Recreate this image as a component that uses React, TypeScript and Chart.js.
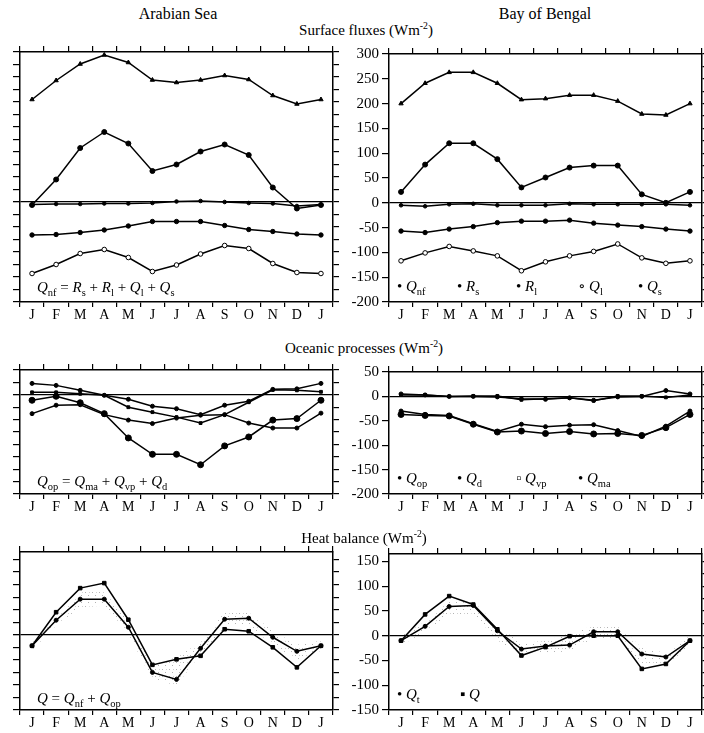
import React, { useEffect, useRef } from 'react';
import { Chart, registerables } from 'chart.js';

Chart.register(...registerables);

const months = ['J', 'F', 'M', 'A', 'M', 'J', 'J', 'A', 'S', 'O', 'N', 'D', 'J'];

// ---- Surface fluxes, Arabian Sea
const asRs = [205, 243, 276, 294, 279, 244, 239, 244, 253, 245, 213, 196, 205];
const asQnf = [-6, 45, 108, 140, 117, 62, 75, 101, 115, 94, 29, -13, -6];
const asQs = [-5, -4, -4, -3, -3, -2, 1, 2, 0, -2, -3, -8, -5];
const asRl = [-66, -65, -61, -56, -48, -39, -39, -39, -47, -55, -59, -64, -66];
const asQl = [-143, -125, -103, -95, -111, -139, -126, -104, -87, -93, -123, -141, -143];

// ---- Surface fluxes, Bay of Bengal
const bbRs = [200, 241, 263, 263, 241, 208, 210, 217, 217, 205, 179, 177, 200];
const bbQnf = [22, 77, 120, 120, 88, 31, 51, 71, 75, 75, 17, 0, 22];
const bbQs = [-5, -7, -3, -2, -5, -5, -5, -2, -3, -3, -3, -3, -5];
const bbRl = [-57, -60, -53, -48, -40, -37, -37, -35, -41, -45, -48, -53, -57];
const bbQl = [-117, -101, -88, -97, -107, -137, -119, -107, -98, -83, -111, -122, -117];

// ---- Oceanic processes, Arabian Sea
const asQop = [-11, -3, -16, -38, -87, -120, -120, -141, -103, -85, -51, -48, -11];
const asQma = [23, 19, 9, -1, -9, -23, -28, -40, -21, -13, 11, 12, 23];
const asQvp = [5, 5, 2, -1, -25, -35, -45, -57, -40, -15, 10, 9, 6];
const asQd = [-38, -21, -20, -40, -51, -58, -47, -41, -40, -57, -67, -67, -37];

// ---- Oceanic processes, Bay of Bengal
const bbQop = [-37, -39, -40, -57, -73, -71, -76, -72, -77, -76, -80, -64, -37];
const bbQma = [-30, -37, -39, -56, -72, -57, -62, -59, -58, -70, -82, -61, -30];
const bbQd = [5, 3, 0, 0, -1, -5, -6, -3, -8, -1, 0, 12, 5];
const bbQvp = [3, 3, 0, 1, 1, -7, -5, -3, -9, 1, 1, -2, 3];

// ---- Heat balance, Arabian Sea
const asQ = [-22, 45, 93, 103, 30, -60, -49, -42, 11, 7, -25, -65, -22];
const asQt = [-22, 29, 71, 71, 15, -75, -89, -27, 31, 33, -5, -33, -22];
const asBandHi = [-12, 40, 85, 88, 28, -60, -45, -15, 45, 45, 8, -20, -12];
const asBandLo = [-32, 18, 55, 58, 2, -90, -100, -40, 15, 18, -20, -50, -32];

// ---- Heat balance, Bay of Bengal
const bbQ = [-10, 43, 80, 63, 13, -40, -23, -1, 0, 0, -67, -57, -10];
const bbQt = [-10, 19, 59, 61, 10, -27, -21, -19, 8, 8, -37, -43, -10];
const bbBandHi = [0, 28, 70, 70, 20, -15, -10, 5, 20, 22, -25, -35, 0];
const bbBandLo = [-20, 8, 42, 45, -10, -38, -38, -30, -5, -5, -55, -60, -20];

const SERIF = '"Liberation Serif", "DejaVu Serif", serif';

type Line = { data: number[]; style?: string; radius?: number; open?: boolean };

type PanelProps = {
  left: number;
  top: number;
  padL: number;
  padR: number;
  plotW: number;
  plotH: number;
  yMin: number;
  yMax: number;
  yLabels: boolean;
  lines: Line[];
  band?: [number[], number[]];
};

function makeStipple(): CanvasPattern | string {
  const c = document.createElement('canvas');
  c.width = 7;
  c.height = 7;
  const g = c.getContext('2d');
  if (!g) return 'rgba(0,0,0,0.1)';
  g.fillStyle = 'rgba(0,0,0,0.3)';
  g.fillRect(1, 1, 1, 1);
  g.fillRect(4, 4, 1, 1);
  g.fillStyle = 'rgba(0,0,0,0.18)';
  g.fillRect(5, 1, 1, 1);
  const p = g.createPattern(c, 'repeat');
  return p || 'rgba(0,0,0,0.1)';
}

function Panel(props: PanelProps) {
  const ref = useRef<HTMLCanvasElement>(null);
  const padT = 10;
  const padB = 22;
  const w = props.padL + props.plotW + props.padR;
  const h = padT + props.plotH + padB;

  useEffect(() => {
    if (!ref.current) return;
    const datasets: any[] = [];
    if (props.band) {
      const pat = makeStipple();
      datasets.push({
        data: props.band[0],
        borderWidth: 0,
        pointRadius: 0,
        fill: '+1',
        backgroundColor: pat,
        borderColor: 'rgba(0,0,0,0)',
        order: 10,
      });
      datasets.push({
        data: props.band[1],
        borderWidth: 0,
        pointRadius: 0,
        fill: false,
        borderColor: 'rgba(0,0,0,0)',
        order: 10,
      });
    }
    props.lines.forEach((l) => {
      datasets.push({
        data: l.data,
        borderColor: '#000',
        borderWidth: 1.5,
        tension: 0,
        fill: false,
        pointStyle: l.style || 'circle',
        pointRadius: l.radius ?? 2,
        pointBackgroundColor: l.open ? '#fff' : '#000',
        pointBorderColor: '#000',
        pointBorderWidth: 1,
        order: 0,
      });
    });

    const tickFont = { family: SERIF, size: 15 };
    const monthFont = { family: SERIF, size: 14 };
    const chart = new Chart(ref.current, {
      type: 'line',
      data: { labels: months, datasets },
      options: {
        responsive: false,
        animation: false,
        events: [],
        layout: { padding: 0, autoPadding: false },
        plugins: { legend: { display: false }, tooltip: { enabled: false } },
        scales: {
          x: {
            type: 'category',
            position: 'bottom',
            offset: true,
            grid: {
              offset: true,
              drawOnChartArea: false,
              drawTicks: true,
              tickLength: 5,
              color: '#000',
              lineWidth: 1.2,
            },
            border: { display: true, color: '#000', width: 1.5 },
            ticks: {
              color: '#000',
              font: monthFont,
              padding: 0,
              maxRotation: 0,
              autoSkip: false,
            },
            afterFit: (s: any) => {
              s.height = padB;
            },
          },
          x2: {
            type: 'category',
            position: 'top',
            offset: true,
            grid: {
              offset: true,
              drawOnChartArea: false,
              drawTicks: true,
              tickLength: 6,
              color: '#000',
              lineWidth: 1.2,
            },
            border: { display: true, color: '#000', width: 1.5 },
            ticks: { display: false },
            afterFit: (s: any) => {
              s.height = padT;
            },
          },
          y: {
            type: 'linear',
            position: 'left',
            min: props.yMin,
            max: props.yMax,
            grid: {
              drawOnChartArea: true,
              drawTicks: true,
              tickLength: 7,
              color: (ctx: any) => (ctx.tick && ctx.tick.value === 0 ? '#000' : 'rgba(0,0,0,0)'),
              tickColor: '#000',
              lineWidth: (ctx: any) => (ctx.tick && ctx.tick.value === 0 ? 1.3 : 1.2),
            },
            border: { display: true, color: '#000', width: 1.5 },
            ticks: {
              display: props.yLabels,
              stepSize: 25,
              includeBounds: false,
              color: '#000',
              font: tickFont,
              padding: 3,
              callback: (v: any) => (Number(v) % 50 === 0 ? String(v) : ''),
            },
            afterFit: (s: any) => {
              s.width = props.padL;
            },
          },
          y2: {
            type: 'linear',
            position: 'right',
            min: props.yMin,
            max: props.yMax,
            grid: {
              drawOnChartArea: false,
              drawTicks: true,
              tickLength: 6,
              color: '#000',
              lineWidth: 1.2,
            },
            border: { display: true, color: '#000', width: 1.5 },
            ticks: { display: false, stepSize: 25, includeBounds: false },
            afterFit: (s: any) => {
              s.width = props.padR;
            },
          },
        },
      } as any,
    });
    return () => chart.destroy();
  }, []);

  return (
    <canvas
      ref={ref}
      width={w}
      height={h}
      style={{ position: 'absolute', left: props.left, top: props.top, width: w, height: h }}
    />
  );
}

const Q = (sub: string, sym = 'Q') => (
  <span>
    <i>{sym}</i>
    <sub style={{ fontSize: '0.7em' }}>{sub}</sub>
  </span>
);

function Txt(p: { x: number; y: number; size?: number; center?: boolean; children: any }) {
  return (
    <div
      style={{
        position: 'absolute',
        left: p.x,
        top: p.y,
        transform: p.center ? 'translate(-50%, -50%)' : 'translate(0, -50%)',
        fontFamily: SERIF,
        fontSize: p.size ?? 15,
        whiteSpace: 'nowrap',
        color: '#000',
        lineHeight: 1,
      }}
    >
      {p.children}
    </div>
  );
}

const unit = (
  <span>
    (Wm<sup style={{ fontSize: '0.65em' }}>-2</sup>)
  </span>
);

export default function App() {
  const L = { left: 0, padL: 20, padR: 14, plotW: 313 };
  const R = { left: 340, padL: 49, padR: 2, plotW: 313 };
  const row1 = { top: 42, plotH: 250, yMin: -200, yMax: 300 };
  const row2 = { top: 360, plotH: 124, yMin: -200, yMax: 50 };
  const row3 = { top: 542, plotH: 158, yMin: -150, yMax: 165 };

  const sfc = (rs: number[], qnf: number[], qs: number[], rl: number[], ql: number[]): Line[] => [
    { data: rs, style: 'triangle', radius: 2.5 },
    { data: qnf, radius: 2.5 },
    { data: qs, radius: 1.8 },
    { data: rl, radius: 2.2 },
    { data: ql, radius: 2.3, open: true },
  ];
  const ocn = (qop: number[], qma: number[], qvp: number[], qd: number[]): Line[] => [
    { data: qop, radius: 3 },
    { data: qma, radius: 2 },
    { data: qvp, style: 'rect', radius: 2 },
    { data: qd, radius: 2 },
  ];
  const heat = (qt: number[], q: number[]): Line[] => [
    { data: qt, radius: 2 },
    { data: q, style: 'rect', radius: 2.5 },
  ];

  return (
    <div style={{ position: 'absolute', left: 0, top: 0, width: 704, height: 733, background: '#fff' }}>
      <Panel {...L} {...row1} yLabels={false} lines={sfc(asRs, asQnf, asQs, asRl, asQl)} />
      <Panel {...R} {...row1} yLabels={true} lines={sfc(bbRs, bbQnf, bbQs, bbRl, bbQl)} />
      <Panel {...L} {...row2} yLabels={false} lines={ocn(asQop, asQma, asQvp, asQd)} />
      <Panel {...R} {...row2} yLabels={true} lines={ocn(bbQop, bbQma, bbQvp, bbQd)} />
      <Panel {...L} {...row3} yLabels={false} lines={heat(asQt, asQ)} band={[asBandHi, asBandLo]} />
      <Panel {...R} {...row3} yLabels={true} lines={heat(bbQt, bbQ)} band={[bbBandHi, bbBandLo]} />

      <Txt x={178} y={14} center size={16}>Arabian Sea</Txt>
      <Txt x={545} y={14} center size={16}>Bay of Bengal</Txt>
      <Txt x={366} y={29} center size={15}>Surface fluxes {unit}</Txt>
      <Txt x={364} y={347} center size={15}>Oceanic processes {unit}</Txt>
      <Txt x={364} y={537} center size={15}>Heat balance {unit}</Txt>

      <Txt x={37} y={289} size={15}>
        {Q('nf')} = {Q('s', 'R')} + {Q('l', 'R')} + {Q('l')} + {Q('s')}
      </Txt>
      <Txt x={397} y={288} size={15}>• {Q('nf')}</Txt>
      <Txt x={457} y={288} size={15}>• {Q('s', 'R')}</Txt>
      <Txt x={516} y={288} size={15}>• {Q('l', 'R')}</Txt>
      <Txt x={578} y={288} size={15}>∘ {Q('l')}</Txt>
      <Txt x={638} y={288} size={15}>• {Q('s')}</Txt>

      <Txt x={37} y={483} size={15}>
        {Q('op')} = {Q('ma')} + {Q('vp')} + {Q('d')}
      </Txt>
      <Txt x={397} y={480} size={15}>• {Q('op')}</Txt>
      <Txt x={457} y={480} size={15}>• {Q('d')}</Txt>
      <Txt x={516} y={480} size={15}>▫ {Q('vp')}</Txt>
      <Txt x={578} y={480} size={15}>• {Q('ma')}</Txt>

      <Txt x={37} y={700} size={15}>
        {Q('')} = {Q('nf')} + {Q('op')}
      </Txt>
      <Txt x={397} y={696} size={15}>• {Q('t')}</Txt>
      <Txt x={460} y={696} size={15}>▪ {Q('')}</Txt>
    </div>
  );
}
